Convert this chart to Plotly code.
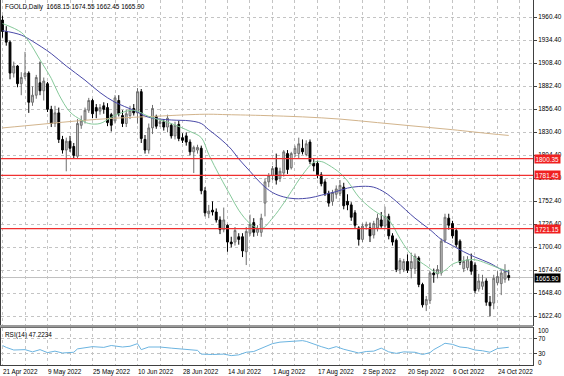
import plotly.graph_objects as go

# ---------------- data ----------------
opens = [1957,1944,1932,1897,1905,1885,1893,1897,1864,1872,1886,1877,1885,1856,1840,1852,1822,1810,1820,1814,
         1803,1838,1844,1855,1866,1858,1854,1860,1858,1850,1843,1866,1849,1840,1849,1857,1852,1876,1822,1810,
         1835,1848,1840,1842,1836,1838,1826,1839,1824,1826,1819,1808,1810,1812,1764,1738,1742,1740,1731,1720,
         1725,1706,1706,1712,1712,1695,1716,1728,1717,1717,1750,1774,1781,1790,1778,1784,1806,1790,1806,1806,
         1812,1805,1819,1795,1795,1782,1774,1761,1752,1760,1761,1768,1752,1748,1739,1722,1709,1724,1722,1714,
         1722,1731,1724,1735,1713,1708,1675,1675,1684,1676,1676,1688,1658,1635,1640,1671,1670,1671,1708,1733,
         1727,1719,1707,1676,1677,1684,1680,1653,1656,1662,1638,1637,1660,1659,1664,1668.15]
highs = [1962,1950,1934,1910,1906,1898,1921,1899,1882,1895,1910,1892,1887,1860,1860,1858,1826,1824,1826,1818,
         1845,1849,1858,1869,1868,1862,1862,1864,1863,1852,1872,1872,1855,1856,1860,1862,1880,1879,1827,1840,
         1861,1850,1846,1845,1850,1840,1842,1843,1829,1830,1822,1815,1816,1815,1768,1748,1752,1744,1735,1745,
         1726,1712,1723,1716,1716,1723,1737,1733,1725,1738,1778,1784,1792,1806,1790,1810,1810,1808,1815,1824,
         1822,1821,1822,1800,1798,1785,1777,1764,1765,1770,1776,1773,1760,1751,1742,1724,1727,1729,1728,1730,
         1738,1740,1746,1738,1716,1710,1688,1687,1692,1694,1693,1690,1660,1645,1673,1676,1680,1710,1738,1738,
         1730,1722,1709,1690,1690,1693,1683,1670,1669,1665,1645,1669,1673,1674,1681,1674.55]
lows = [1937,1928,1890,1892,1881,1872,1890,1852,1860,1868,1872,1866,1853,1836,1836,1818,1806,1786,1808,1800,
        1800,1834,1840,1852,1846,1846,1850,1851,1837,1831,1840,1848,1836,1836,1845,1849,1840,1818,1806,1806,
        1828,1834,1836,1832,1830,1823,1822,1820,1818,1815,1804,1784,1806,1760,1735,1733,1736,1728,1715,1717,
        1695,1700,1702,1703,1689,1680,1713,1712,1713,1712,1735,1768,1776,1771,1774,1780,1783,1788,1802,1800,
        1805,1803,1794,1786,1778,1769,1758,1746,1747,1755,1758,1743,1742,1730,1722,1702,1706,1720,1706,1710,
        1718,1722,1722,1709,1702,1672,1670,1672,1671,1665,1670,1655,1632,1628,1636,1660,1665,1668,1705,1720,
        1710,1700,1680,1672,1674,1669,1648,1650,1652,1634,1622,1630,1657,1646,1660,1662.45]
closes = [1944,1932,1897,1905,1885,1892,1897,1864,1872,1892,1877,1888,1856,1840,1852,1822,1810,1820,1812,1804,
          1840,1843,1855,1866,1851,1854,1858,1856,1841,1838,1869,1851,1840,1851,1855,1852,1876,1823,1810,1835,
          1857,1837,1842,1836,1846,1826,1838,1823,1821,1819,1808,1813,1813,1764,1739,1741,1740,1731,1720,1731,
          1706,1704,1719,1709,1696,1718,1726,1717,1721,1733,1774,1781,1789,1776,1786,1808,1788,1806,1812,1817,
          1808,1817,1797,1792,1782,1772,1761,1750,1762,1766,1770,1747,1748,1734,1725,1709,1724,1726,1713,1727,
          1733,1724,1735,1713,1706,1675,1685,1684,1674,1684,1690,1658,1635,1641,1671,1669,1675,1707,1734,1725,
          1713,1703,1683,1684,1686,1673,1651,1662,1661,1638,1634,1665,1667,1671,1673,1665.90]

# moving averages sampled along the picture: (bar index, value)
ma_fast_idx = [0,5,7,10,13,15,18,21,23,26,29,31,35,39,45,50,53,55,58,61,63,66,69,72,75,77,80,83,85,87,90,92,95,98,100,103,106,108,110,113,116,118,120,123,126,129,132,135]
ma_fast_val = [1953,1943,1933,1912,1891,1873,1853,1844,1840,1840,1847,1851,1855,1848,1840,1831,1824,1805,1780,1757,1742,1727,1721,1733,1750,1763,1782,1796,1797,1793,1784,1775,1757,1745,1739,1731,1710,1697,1688,1679,1671,1674,1681,1685,1686,1682,1677,1673]
ma_slow_idx = [0,5,8,13,17,22,26,30,35,39,45,50,53,55,58,61,63,66,69,72,75,78,82,85,89,92,96,99,102,105,110,114,117,120,123,126,130,133,135]
ma_slow_val = [1945,1940,1933,1919,1905,1889,1875,1864,1855,1847,1844,1843,1840,1833,1823,1811,1800,1786,1772,1762,1757,1755,1756,1759,1763,1767,1769,1768,1762,1752,1733,1720,1709,1702,1695,1689,1682,1675,1672]
ma_long_idx = [0,10,20,30,40,50,55,60,70,80,90,100,110,120,130,135]
ma_long_val = [1835,1839,1843,1846,1848,1850,1850.5,1850,1849,1847.5,1845,1841,1837,1833,1828.5,1826.5]

rsi_idx = [0,1,3,6,8,10,12,14,16,17,19,20,22,24,27,29,32,34,36,37,39,42,45,47,50,52,53,56,59,61,63,65,67,69,70,
           72,74,77,80,81,83,85,87,89,91,93,95,97,99,101,103,105,107,110,112,114,115,117,118,120,122,124,126,128,130,132,134,135]
rsi_val = [52,47,40,41,35,41,33,37,32,33,34,43,46,49,47,52,48,50,57,41,48,48,45,43,40,39,29,28,29,25,27,34,36,44,50,
           57,61,63,65,63,55,49,43,49,42,38,32,36,37,45,35,31,35,34,28,33,41,52,58,55,48,46,40,38,34,44,46,47.2234]

levels = [1800.35, 1781.45, 1721.15]
last_price = 1665.90
price_ticks = [1622.40,1648.40,1674.40,1700.40,1726.40,1752.40,1778.40,1804.40,1830.40,1856.40,1882.40,1908.40,1934.40,1960.40]
date_tick_idx = [0,12,24,36,48,60,72,84,96,108,120,132]
date_labels = ["21 Apr 2022","9 May 2022","25 May 2022","10 Jun 2022","28 Jun 2022","14 Jul 2022",
               "1 Aug 2022","17 Aug 2022","2 Sep 2022","20 Sep 2022","6 Oct 2022","24 Oct 2022"]
title_text = "FGOLD,Daily  1668.15 1674.55 1662.45 1665.90"
rsi_text = "RSI(14) 47.2234"

# ---------------- figure ----------------
FONT = "Liberation Sans, Arial, sans-serif"
FS = 6.4
bars = list(range(len(closes)))
xr = [-0.4, 141.47]
grid_x = list(range(0, 142, 6))
grid_text = []
for g in grid_x:
    grid_text.append(date_labels[date_tick_idx.index(g)] if g in date_tick_idx else "")

fig = go.Figure()
fig.add_trace(go.Candlestick(
    x=bars, open=opens, high=highs, low=lows, close=closes,
    increasing=dict(fillcolor="#c8c8c8", line=dict(color="#6e6e6e", width=1)),
    decreasing=dict(fillcolor="#000000", line=dict(color="#000000", width=1)),
    whiskerwidth=0, showlegend=False, hoverinfo="skip", xaxis="x", yaxis="y"))
fig.add_trace(go.Scatter(x=ma_long_idx, y=ma_long_val, mode="lines", line=dict(color="#d2b48c", width=1, shape="spline"),
                         showlegend=False, hoverinfo="skip"))
fig.add_trace(go.Scatter(x=ma_slow_idx, y=ma_slow_val, mode="lines", line=dict(color="#4a4aa8", width=1, shape="spline"),
                         showlegend=False, hoverinfo="skip"))
fig.add_trace(go.Scatter(x=ma_fast_idx, y=ma_fast_val, mode="lines", line=dict(color="#86c99a", width=1, shape="spline"),
                         showlegend=False, hoverinfo="skip"))
fig.add_trace(go.Scatter(x=rsi_idx, y=rsi_val, mode="lines", line=dict(color="#6cb4e0", width=1),
                         showlegend=False, hoverinfo="skip", xaxis="x2", yaxis="y2"))

shapes = []
shapes.append(dict(type="line", xref="paper", x0=0, x1=1, yref="y", y0=last_price, y1=last_price,
                   line=dict(color="#c0c0c0", width=1), layer="below"))
for lv in levels:
    shapes.append(dict(type="line", xref="paper", x0=0, x1=1, yref="y", y0=lv, y1=lv,
                       line=dict(color="#f03030", width=1.2)))
shapes.append(dict(type="rect", xref="paper", x0=-0.01, x1=1.0, yref="paper", y0=0.1029, y1=0.1096,
                   fillcolor="#9a9a9a", line=dict(width=0)))
fig.update_layout(shapes=shapes)

ann = [dict(text=title_text, xref="paper", yref="paper", x=0, y=1, xanchor="left", yanchor="top",
            xshift=2, yshift=-1, showarrow=False, font=dict(family=FONT, size=FS, color="black")),
       dict(text=rsi_text, xref="paper", yref="paper", x=0, y=0.1027, xanchor="left", yanchor="top",
            xshift=2, yshift=-1, showarrow=False, font=dict(family=FONT, size=FS, color="black"))]
for lv in levels:
    ann.append(dict(text=f"{lv:.2f}", xref="paper", yref="y", x=1, y=lv, xanchor="left", yanchor="middle",
                    xshift=1, showarrow=False, bgcolor="#f02020", borderpad=0.5,
                    font=dict(family=FONT, size=FS, color="white")))
ann.append(dict(text=f"{last_price:.2f}", xref="paper", yref="y", x=1, y=last_price, xanchor="left", yanchor="middle",
                xshift=1, showarrow=False, bgcolor="#000000", borderpad=0.5,
                font=dict(family=FONT, size=FS, color="white")))
for v, t in [(92, "100"), (8, "0")]:
    ann.append(dict(text=t, xref="paper", yref="y2", x=1, y=v, xanchor="left", yanchor="middle",
                    xshift=3, showarrow=False, font=dict(family=FONT, size=FS, color="black")))
fig.update_layout(annotations=ann)

axis_common = dict(showline=True, mirror=True, linecolor="#404040", linewidth=1, zeroline=False,
                   gridcolor="#c4c4c4", griddash="dot", gridwidth=1)
fig.update_layout(
    width=564, height=376, margin=dict(l=1, r=31, t=0, b=11),
    paper_bgcolor="white", plot_bgcolor="white",
    font=dict(family=FONT, size=FS, color="black"),
    xaxis=dict(domain=[0, 1], anchor="y", range=xr, tickvals=grid_x, showticklabels=False, ticks="",
               rangeslider=dict(visible=False), **axis_common),
    yaxis=dict(domain=[0.1096, 1], anchor="x", side="right", range=[1612.23, 1979.62],
               tickvals=price_ticks, ticktext=[f"{v:.2f}" for v in price_ticks],
               ticks="outside", ticklen=3, tickcolor="#404040", **axis_common),
    xaxis2=dict(domain=[0, 1], anchor="y2", range=xr, tickvals=grid_x, ticktext=grid_text,
                ticks="", ticklabelposition="outside right", matches="x", **axis_common),
    yaxis2=dict(domain=[0, 0.1027], anchor="x2", side="right", range=[0, 100],
                tickvals=[30, 70], ticktext=["30", "70"], ticks="outside", ticklen=3, tickcolor="#404040",
                **axis_common),
)
fig.write_html("out.html", config={"displayModeBar": False},
               post_script="document.body.style.margin='0px';document.body.style.overflow='hidden';")
